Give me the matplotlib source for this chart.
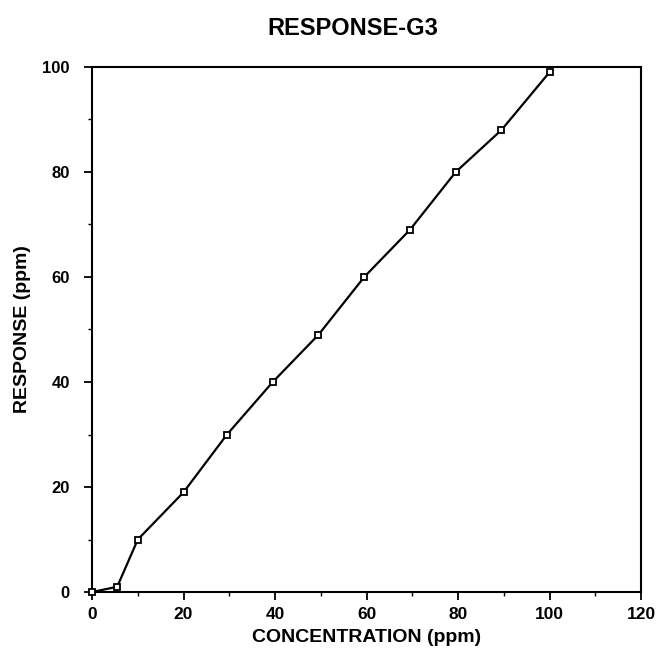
import matplotlib.pyplot as plt
from matplotlib.ticker import MultipleLocator

# calibration data
concentration = [0, 5.5, 10, 20, 29.5, 39.5, 49.5, 59.5, 69.5, 79.5, 89.5, 100]
response = [0, 1, 10, 19, 30, 40, 49, 60, 69, 80, 88, 99]

x_ticks = [0, 20, 40, 60, 80, 100, 120]
y_ticks = [0, 20, 40, 60, 80, 100]

plt.rcParams['font.family'] = ['Liberation Sans', 'DejaVu Sans']

fig = plt.figure(figsize=(6.64, 6.67), dpi=100)
ax = fig.add_axes([0.1386, 0.1124, 0.8268, 0.7872])

ax.plot(concentration, response, color='black', linewidth=1.6,
        marker='s', markersize=4.5, markerfacecolor='white',
        markeredgecolor='black', markeredgewidth=1.3, clip_on=False, zorder=3)

ax.set_xlim(0, 120)
ax.set_ylim(0, 100)
ax.set_xticks(x_ticks)
ax.set_yticks(y_ticks)
ax.xaxis.set_minor_locator(MultipleLocator(10))
ax.yaxis.set_minor_locator(MultipleLocator(10))

ax.tick_params(which='major', direction='out', length=6, width=1.3)
ax.tick_params(which='minor', direction='out', length=3, width=1.0)
ax.tick_params(axis='x', which='major', labelsize=12.5, pad=5)
ax.tick_params(axis='y', which='major', labelsize=12, pad=10)
for lab in ax.get_xticklabels() + ax.get_yticklabels():
    lab.set_fontweight('bold')

for side in ax.spines.values():
    side.set_linewidth(1.5)

ax.set_xlabel('CONCENTRATION (ppm)', fontsize=14, fontweight='bold', labelpad=5)
ax.set_ylabel('RESPONSE (ppm)', fontsize=14, fontweight='bold', labelpad=8)
fig.text(0.532, 0.958, 'RESPONSE-G3', ha='center', va='center',
         fontsize=17, fontweight='bold')

fig.savefig('out.png', dpi=100)
